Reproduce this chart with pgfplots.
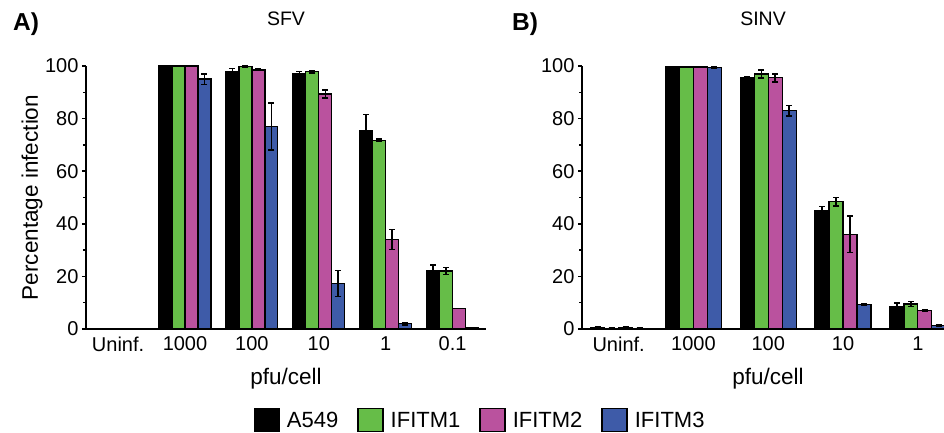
\documentclass[border=0pt]{standalone}
\usepackage{fontspec}
\setmainfont{Liberation Sans}
\usepackage{pgfplots}
\usepackage{pgfplotstable}
\pgfplotsset{compat=1.18}
\definecolor{cA}{RGB}{0,0,0}
\definecolor{cB}{RGB}{102,189,72}
\definecolor{cC}{RGB}{186,82,158}
\definecolor{cD}{RGB}{62,91,168}

\pgfplotstableread{
x A Ae B Be C Ce D De
0 0 0 0 0 0 0 0 0
1 100 0 100 0 100 0 95 2
2 98 1 99.8 0.3 98.5 0.3 77 9
3 97 1 97.8 0.5 89.3 1.5 17.3 5
4 75.5 6 71.8 0.5 34 3.8 2 0.5
5 22 2.4 22 1.3 7.8 0 0.4 0
}\sfv

\pgfplotstableread{
x A Ae B Be C Ce D De
0 0.5 0.2 0.3 0 0.5 0.2 0.3 0
1 99.7 0.2 99.6 0.2 99.6 0.2 99.5 0.2
2 95.4 0.5 97 1.5 95.5 1.5 83 2
3 45 1.5 48.4 1.6 36 7 9.3 0.3
4 8.6 1.2 9.5 1 7 0.4 1.3 0.3
}\sinv

\pgfplotsset{
  mybars/.style={
    ybar=0pt, scale only axis, height=263pt, ymin=0, ymax=100,
    axis lines*=left, axis line style={line width=2.5pt},
    ytick={0,20,...,100}, minor y tick num=1, tick align=outside,
    major tick length=4pt, minor tick length=3pt,
    every tick/.style={black, line width=1.5pt},
    xtick style={draw=none}, ytick pos=left,
    /pgf/number format/assume math mode=true,
    tick label style={font=\fontsize{20}{24}\selectfont},
    label style={font=\fontsize{22.5}{27}\selectfont},
    title style={font=\fontsize{19.5}{23}\selectfont, anchor=center},
    every axis plot/.append style={draw=black, line width=1.3pt},
    error bars/error bar style={line width=1.5pt, black},
    error bars/error mark options={rotate=90, mark size=3pt, line width=1.5pt, black},
    legend image code/.code={\draw[#1, line width=1.5pt] (0pt,-11pt) rectangle (25pt,12pt); \path (30pt,0pt);},
  }
}

\begin{document}
\begin{tikzpicture}
\useasboundingbox (-86pt,-104pt) rectangle (858pt,329pt);
\begin{axis}[mybars, width=400pt, xmin=-0.48, xmax=5.5, bar width=0.194,
  xtick={0,...,5}, xticklabels={Uninf.,1000,100,10,1,0.1},
  xlabel={pfu/cell}, xlabel style={at={(0.5,-0.19)}, anchor=center},
  ylabel={Percentage infection}, ylabel style={at={(-0.135,0.5)}, anchor=center},
  title={SFV}, title style={at={(0.5,1.156)}},
  legend columns=4,
  legend style={at={(0.985,-0.346)}, anchor=center, draw=none, fill=none,
    font=\fontsize{22}{26}\selectfont,
    /tikz/every even column/.append style={column sep=17pt}},
]
\addplot[fill=cA, error bars/.cd, y dir=both, y explicit] table[x=x, y=A, y error=Ae]{\sfv};
\addplot[fill=cB, error bars/.cd, y dir=both, y explicit] table[x=x, y=B, y error=Be]{\sfv};
\addplot[fill=cC, error bars/.cd, y dir=both, y explicit] table[x=x, y=C, y error=Ce]{\sfv};
\addplot[fill=cD, error bars/.cd, y dir=both, y explicit] table[x=x, y=D, y error=De]{\sfv};
\legend{A549,IFITM1,IFITM2,IFITM3}
\end{axis}
\begin{axis}[mybars, at={(496pt,0pt)}, width=362pt, xmin=-0.49, xmax=4.35, bar width=0.187,
  xtick={0,...,4}, xticklabels={Uninf.,1000,100,10,1},
  xlabel={pfu/cell}, xlabel style={at={(0.514,-0.19)}, anchor=center},
  title={SINV}, title style={at={(0.5,1.156)}},
]
\addplot[fill=cA, error bars/.cd, y dir=both, y explicit] table[x=x, y=A, y error=Ae]{\sinv};
\addplot[fill=cB, error bars/.cd, y dir=both, y explicit] table[x=x, y=B, y error=Be]{\sinv};
\addplot[fill=cC, error bars/.cd, y dir=both, y explicit] table[x=x, y=C, y error=Ce]{\sinv};
\addplot[fill=cD, error bars/.cd, y dir=both, y explicit] table[x=x, y=D, y error=De]{\sinv};
\end{axis}
\node[font=\bfseries\fontsize{24.5}{29}\selectfont] at (-60pt,305pt) {A)};
\node[font=\bfseries\fontsize{24.5}{29}\selectfont] at (439pt,305pt) {B)};
\end{tikzpicture}
\end{document}
